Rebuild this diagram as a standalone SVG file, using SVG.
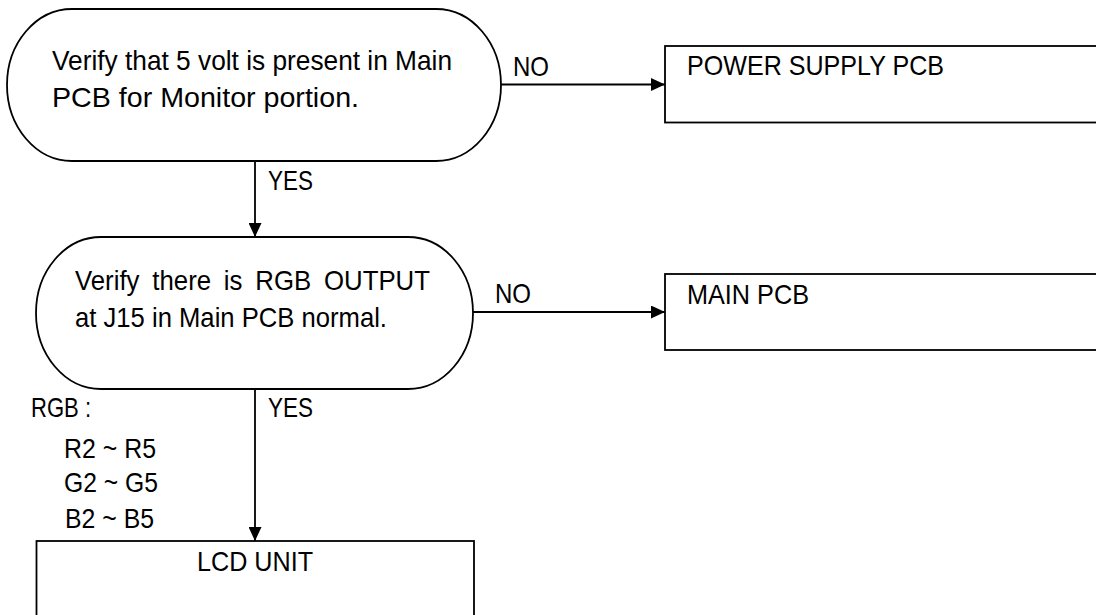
<svg xmlns="http://www.w3.org/2000/svg" width="1096" height="615" viewBox="0 0 1096 615">
<style>
.shape{fill:#fff;stroke:#000;stroke-width:1.8}
.conn{fill:none;stroke:#000;stroke-width:1.8}
text{font-family:"Liberation Sans",Arial,sans-serif;font-size:27.5px;fill:#000}
</style>
<defs>
<marker id="arrow" markerUnits="userSpaceOnUse" markerWidth="14" markerHeight="13" refX="14" refY="6.5" orient="auto">
<path d="M0,0 L14,6.5 L0,13 Z" fill="#000"/>
</marker>
</defs>
<rect width="1096" height="615" fill="#fff"/>
<g id="connectors">
<line class="conn" x1="501" y1="84.5" x2="665" y2="84.5" marker-end="url(#arrow)"/>
<line class="conn" x1="255" y1="161" x2="255" y2="237" marker-end="url(#arrow)"/>
<line class="conn" x1="473" y1="312" x2="665" y2="312" marker-end="url(#arrow)"/>
<line class="conn" x1="255" y1="389" x2="255" y2="541" marker-end="url(#arrow)"/>
<text x="513" y="76" textLength="36" lengthAdjust="spacingAndGlyphs">NO</text>
<text x="268" y="190" textLength="45" lengthAdjust="spacingAndGlyphs">YES</text>
<text x="495" y="303" textLength="36" lengthAdjust="spacingAndGlyphs">NO</text>
<text x="268" y="416.5" textLength="45" lengthAdjust="spacingAndGlyphs">YES</text>
<text x="31" y="417" textLength="60" lengthAdjust="spacingAndGlyphs">RGB :</text>
<text x="64" y="458" textLength="92" lengthAdjust="spacingAndGlyphs">R2 ~ R5</text>
<text x="64" y="492" textLength="94" lengthAdjust="spacingAndGlyphs">G2 ~ G5</text>
<text x="65" y="528" textLength="89" lengthAdjust="spacingAndGlyphs">B2 ~ B5</text>
</g>
<g id="check5v">
<path class="shape" d="M72,9 H436 A65 76 0 0 1 436,161 H72 A65 76 0 0 1 72,9 Z"/>
<text x="52" y="70" textLength="400" lengthAdjust="spacingAndGlyphs">Verify that 5 volt is present in Main</text>
<text x="52" y="107" textLength="307" lengthAdjust="spacingAndGlyphs">PCB for Monitor portion.</text>
</g>
<g id="checkRGB">
<path class="shape" d="M101,237 H408 A65 76 0 0 1 408,389 H101 A65 76 0 0 1 101,237 Z"/>
<text x="75" y="289.5" textLength="355" lengthAdjust="spacingAndGlyphs" word-spacing="6">Verify there is RGB OUTPUT</text>
<text x="75" y="326.5" textLength="312" lengthAdjust="spacingAndGlyphs">at J15 in Main PCB normal.</text>
</g>
<g id="powerSupply">
<rect class="shape" x="665" y="46" width="500" height="76.5"/>
<text x="687" y="75" textLength="257" lengthAdjust="spacingAndGlyphs">POWER SUPPLY PCB</text>
</g>
<g id="mainPCB">
<rect class="shape" x="665" y="274" width="500" height="76"/>
<text x="687" y="304" textLength="122" lengthAdjust="spacingAndGlyphs">MAIN PCB</text>
</g>
<g id="lcdUnit">
<rect class="shape" x="36.5" y="541" width="437.5" height="120"/>
<text x="197" y="571" textLength="116" lengthAdjust="spacingAndGlyphs">LCD UNIT</text>
</g>
</svg>
